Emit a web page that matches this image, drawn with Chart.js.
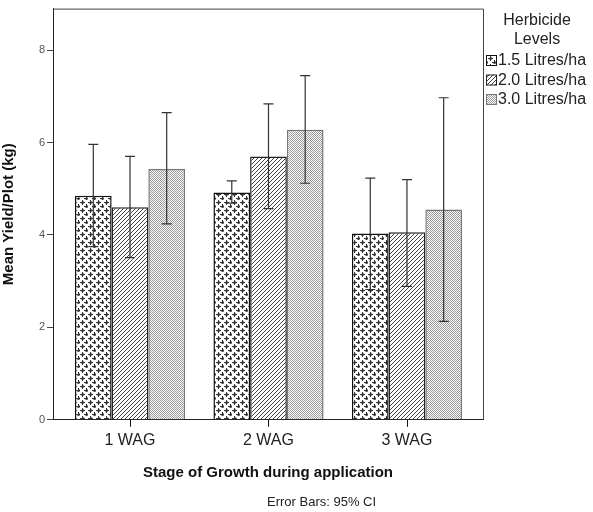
<!DOCTYPE html>
<html>
<head>
<meta charset="utf-8">
<script src="https://cdn.jsdelivr.net/npm/chart.js@4/dist/chart.umd.min.js"></script>
<style>
    html, body { margin: 0; padding: 0; background: #fff; }
</style>
</head>
<body>
<canvas id="yieldChart" width="593" height="512"></canvas>
<script>
const categories = ["1 WAG", "2 WAG", "3 WAG"];
const seriesNames = ["1.5 Litres/ha", "2.0 Litres/ha", "3.0 Litres/ha"];
const yTicks = [0, 2, 4, 6, 8];

// mean yield per plot
const mean15 = [4.85, 4.92, 4.03];
const mean20 = [4.60, 5.70, 4.06];
const mean30 = [5.43, 6.28, 4.55];

// 95% CI lower / upper
const low15 = [3.75, 4.69, 2.82];
const high15 = [5.96, 5.17, 5.23];
const low20 = [3.51, 4.57, 2.89];
const high20 = [5.70, 6.84, 5.20];
const low30 = [4.24, 5.12, 2.13];
const high30 = [6.65, 7.45, 6.97];

function makePattern(kind) {
    const c = document.createElement("canvas");
    const g = c.getContext("2d");
    if (kind === "plus") {
        c.width = 8; c.height = 8;
        g.fillStyle = "#fff"; g.fillRect(0, 0, 8, 8);
        g.fillStyle = "#333";
        [[2, 2], [6, 6]].forEach(([x, y]) => {
            g.fillRect(x - 2, y, 5, 1);
            g.fillRect(x, y - 2, 1, 5);
        });
        g.fillStyle = "rgba(60,60,60,0.5)";
        [[2, 2], [6, 6]].forEach(([x, y]) => {
            g.fillRect(x - 1, y + 1, 3, 1);
            g.fillRect(x + 1, y - 1, 1, 1);
        });
    } else if (kind === "hatch") {
        c.width = 4; c.height = 4;
        g.fillStyle = "#fff"; g.fillRect(0, 0, 4, 4);
        g.strokeStyle = "#444"; g.lineWidth = 1;
        g.beginPath();
        g.moveTo(-1, 5); g.lineTo(5, -1);
        g.moveTo(-1, 1); g.lineTo(1, -1);
        g.moveTo(3, 5); g.lineTo(5, 3);
        g.stroke();
    } else {
        c.width = 2; c.height = 2;
        g.fillStyle = "#fff"; g.fillRect(0, 0, 2, 2);
        g.fillStyle = "#999";
        g.fillRect(0, 0, 1, 1); g.fillRect(1, 1, 1, 1);
    }
    return g.createPattern(c, "repeat");
}

const ctx = document.getElementById("yieldChart").getContext("2d");
const patterns = [makePattern("plus"), makePattern("hatch"), makePattern("dots")];
const borders = ["#111", "#222", "#777"];
const means = [mean15, mean20, mean30];
const lows = [low15, low20, low30];
const highs = [high15, high20, high30];

const errorBars = {
    id: "errorBars",
    afterDatasetsDraw(chart) {
        const y = chart.scales.y;
        const c = chart.ctx;
        c.save();
        c.strokeStyle = "#333";
        c.lineWidth = 1.2;
        chart.data.datasets.forEach((ds, di) => {
            chart.getDatasetMeta(di).data.forEach((bar, i) => {
                const top = y.getPixelForValue(highs[di][i]);
                const bot = y.getPixelForValue(lows[di][i]);
                c.beginPath();
                c.moveTo(bar.x, top); c.lineTo(bar.x, bot);
                c.moveTo(bar.x - 5, top); c.lineTo(bar.x + 5, top);
                c.moveTo(bar.x - 5, bot); c.lineTo(bar.x + 5, bot);
                c.stroke();
            });
        });
        c.restore();
    }
};

const extras = {
    id: "extras",
    afterDraw(chart) {
        const a = chart.chartArea;
        const c = chart.ctx;
        c.save();
        // frame top/right
        c.strokeStyle = "#444";
        c.lineWidth = 1;
        c.beginPath();
        c.moveTo(a.left, a.top + 0.5); c.lineTo(a.right + 0.5, a.top + 0.5);
        c.lineTo(a.right + 0.5, a.bottom);
        c.stroke();
        // x tick marks at category centres (middle bar of each group)
        c.strokeStyle = "#111";
        c.lineWidth = 1;
        c.beginPath();
        chart.getDatasetMeta(1).data.forEach((bar) => {
            const px = Math.round(bar.x) + 0.5;
            c.moveTo(px, a.bottom);
            c.lineTo(px, a.bottom + 7);
        });
        c.stroke();
        // legend
        c.fillStyle = "#222";
        c.font = "16px 'Liberation Sans', Arial, sans-serif";
        c.textAlign = "center";
        c.textBaseline = "middle";
        c.fillText("Herbicide", 537, 21);
        c.fillText("Levels", 537, 40);
        c.textAlign = "left";
        seriesNames.forEach((name, i) => {
            const cy = 61 + i * 19.5;
            c.fillStyle = patterns[i];
            c.fillRect(486, cy - 6, 11, 11);
            c.strokeStyle = borders[i];
            c.strokeRect(486.5, cy - 5.5, 10, 10);
            c.fillStyle = "#222";
            c.fillText(name, 498, cy);
        });
        // footnote
        c.font = "13px 'Liberation Sans', Arial, sans-serif";
        c.fillStyle = "#222";
        c.fillText("Error Bars: 95% CI", 267, 502);
        c.restore();
    }
};

new Chart(ctx, {
    type: "bar",
    data: {
        datasets: means.map((vals, di) => ({
            label: seriesNames[di],
            data: vals.map((v, i) => ({ x: i + 1, y: v })),
            backgroundColor: patterns[di],
            borderColor: borders[di],
            borderWidth: 1.5,
        })),
    },
    options: {
        responsive: false,
        animation: false,
        layout: { padding: { top: 5, right: 110, bottom: 30, left: 0 } },
        barPercentage: 1,
        categoryPercentage: 0.795,
        scales: {
            x: {
                type: "linear",
                offset: false,
                min: 0.444,
                max: 3.549,
                grid: { display: true, offset: false, drawOnChartArea: false, color: "rgba(0,0,0,0)", tickLength: 6 },
                border: { display: true, color: "#222", width: 1 },
                ticks: {
                    includeBounds: false,
                    stepSize: 1,
                    autoSkip: false,
                    maxRotation: 0,
                    padding: 5,
                    color: "#222",
                    font: { family: "'Liberation Sans', Arial, sans-serif", size: 16 },
                    callback: (v) => categories[v - 1] || "",
                },
                title: {
                    display: true,
                    text: "Stage of Growth during application",
                    color: "#111",
                    padding: { top: 9, bottom: 0 },
                    font: { family: "'Liberation Sans', Arial, sans-serif", size: 15, weight: "bold" },
                },
            },
            y: {
                min: 0,
                max: 8.9,
                afterFit: (s) => { s.width = 53; },
                grid: { display: true, drawOnChartArea: false, color: "#444", tickLength: 6 },
                border: { color: "#222", width: 1 },
                ticks: {
                    includeBounds: false,
                    stepSize: 2,
                    padding: 2,
                    color: "#555",
                    font: { family: "'Liberation Sans', Arial, sans-serif", size: 11 },
                    callback: (v) => yTicks.includes(v) ? v : "",
                },
                title: {
                    display: true,
                    text: "Mean Yield/Plot (kg)",
                    color: "#111",
                    padding: { top: 0, bottom: 6 },
                    font: { family: "'Liberation Sans', Arial, sans-serif", size: 15, weight: "bold" },
                },
            },
        },
        plugins: {
            legend: { display: false },
            tooltip: { enabled: false },
        },
    },
    plugins: [errorBars, extras],
});
</script>
</body>
</html>
